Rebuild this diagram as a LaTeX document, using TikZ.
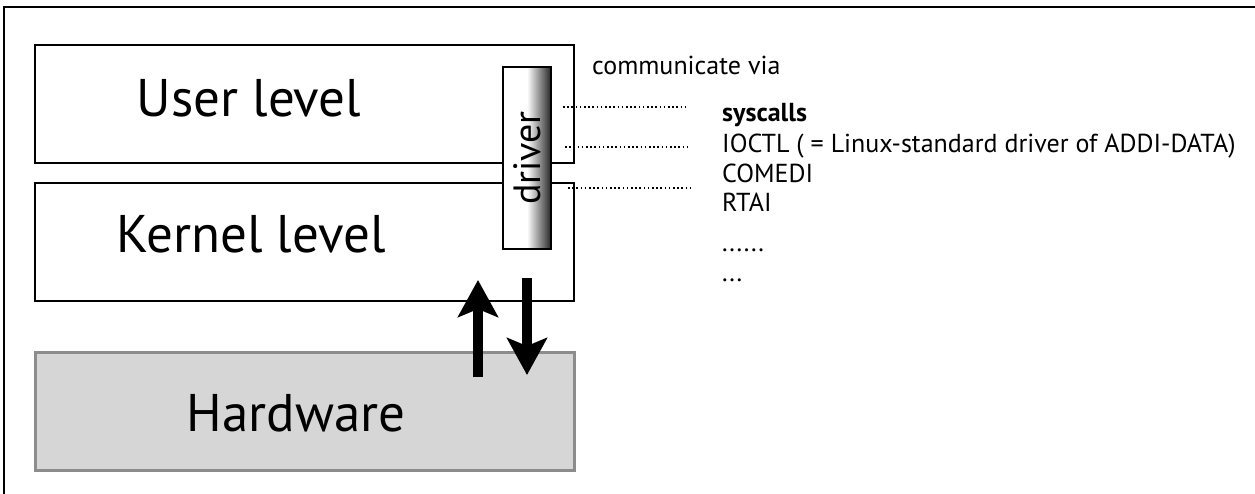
\documentclass[tikz,border=0pt]{standalone}
\usepackage{fontspec}
\setmainfont{PT Sans}
\usetikzlibrary{arrows.meta,positioning}

\begin{document}
\begin{tikzpicture}[x=1pt, y=-1pt,
    level/.style={draw, line width=2pt, minimum width=539pt, minimum height=118pt, anchor=north west, inner sep=0pt},
    hwbox/.style={level, draw=black!45, fill=black!16, line width=2.5pt},
    biglabel/.style={font=\fontsize{53}{60}\selectfont, anchor=base, inner sep=0pt},
    smalllabel/.style={font=\fontsize{26}{30}\selectfont, anchor=base west, inner sep=0pt},
    via/.style={dash pattern=on 1.6pt off 2.6pt, line width=1.6pt},
    bigarrow/.style={line width=10pt, -{Stealth[length=37pt, width=40pt, inset=8pt]}}]
\useasboundingbox (0,0) rectangle (1255,494);
% frame
\draw[line width=2pt] (4,494) -- (4,7) -- (1255,7);
% levels
\node [level] (user) at (34,44) {};
\node [level] (kernel) at (34,182) {};
\node [hwbox] (hw) at (34,351) {};
\node [biglabel] (userlbl) at (249,117) {User level};
\node [biglabel] (kernellbl) at (251,253) {Kernel level};
\node [biglabel] (hwlbl) at (296,431) {Hardware};
% driver
\node [draw, line width=2pt, anchor=north west, minimum width=48pt, minimum height=182pt, inner sep=0pt,
       left color=white, right color=black!85, middle color=white] (driver) at (502,66) {};
\node [rotate=90, font=\fontsize{38}{44}\selectfont, inner sep=0pt] (driverlbl) at (driver.center) {driver};
% data flow
\coordinate (upfrom) at (478,377);
\coordinate (upto) at (478,280);
\coordinate (downfrom) at (527,278);
\coordinate (downto) at (527,375);
\draw [bigarrow] (upfrom) -- (upto);
\draw [bigarrow] (downfrom) -- (downto);
% interfaces
\node [smalllabel] (via) at (592,75) {communicate via};
\node [smalllabel, font=\fontsize{26}{30}\selectfont\bfseries] (syscalls) at (722,122) {syscalls};
\node [smalllabel] (ioctl) at (722,153) {IOCTL ( = Linux-standard driver of ADDI-DATA)};
\node [smalllabel] (comedi) at (722,183) {COMEDI};
\node [smalllabel] (rtai) at (722,212) {RTAI};
\node [smalllabel] (more) at (722,252) {......};
\node [smalllabel] (etc) at (722,282) {...};
\coordinate (d1a) at (563,107);
\coordinate (d1b) at (685,107);
\coordinate (d2a) at (565,147);
\coordinate (d2b) at (687,147);
\coordinate (d3a) at (568,188);
\coordinate (d3b) at (690,188);
\draw [via] (d1a) -- (d1b);
\draw [via] (d2a) -- (d2b);
\draw [via] (d3a) -- (d3b);
\end{tikzpicture}
\end{document}
